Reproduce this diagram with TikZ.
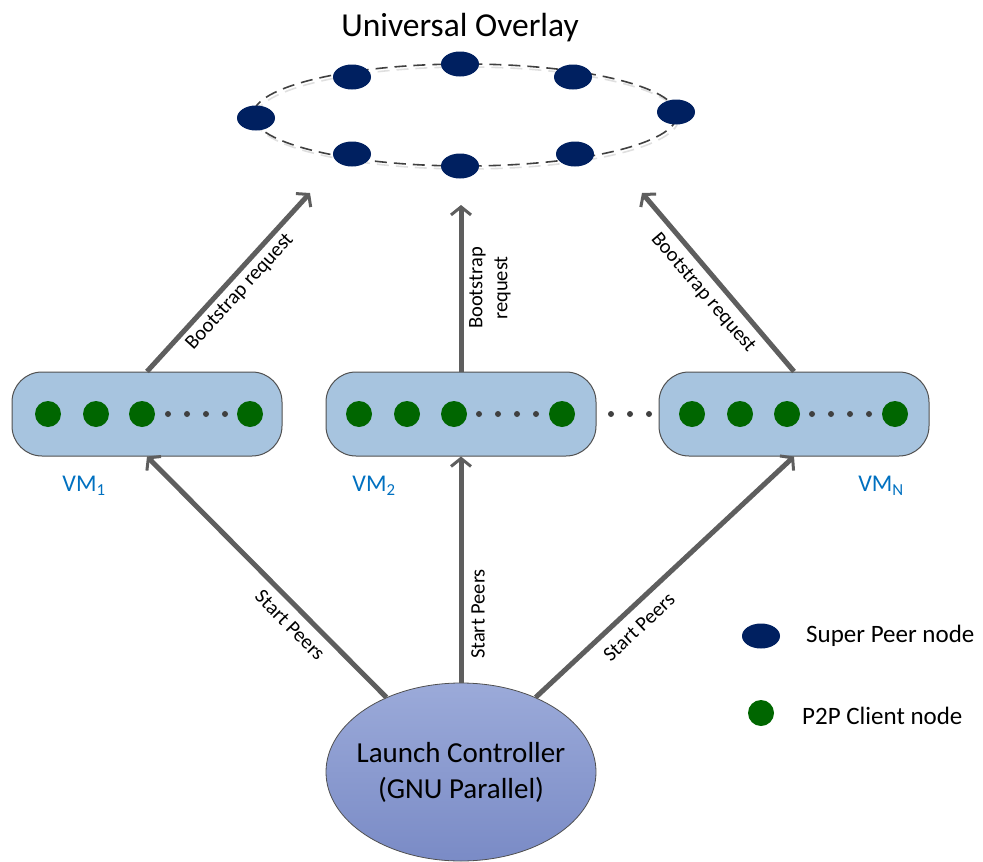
\documentclass[tikz,border=0pt]{standalone}
\usepackage{fontspec}
\setmainfont{Carlito}
\usetikzlibrary{shapes.geometric,arrows.meta}
\definecolor{navy}{HTML}{002060}
\definecolor{cgreen}{HTML}{006600}
\definecolor{dotgray}{HTML}{404040}
\definecolor{boxfill}{HTML}{A7C4DF}
\definecolor{boxline}{HTML}{505050}
\definecolor{arrowgray}{HTML}{5E5E5E}
\definecolor{vmblue}{HTML}{0070C0}
\definecolor{ringgray}{HTML}{404040}
\definecolor{lctop}{HTML}{9BAAD9}
\definecolor{lcbot}{HTML}{7A8BC6}
\begin{document}
\begin{tikzpicture}[x=1pt,y=-1pt,
  vmbox/.style={draw=boxline, line width=1pt, fill=boxfill, rounded corners=30pt,
    minimum width=270pt, minimum height=84pt, inner sep=0pt},
  super/.style={ellipse, fill=navy, minimum width=38pt, minimum height=25pt, inner sep=0pt},
  client/.style={circle, fill=cgreen, minimum size=26pt, inner sep=0pt},
  sdot/.style={circle, fill=dotgray, minimum size=6pt, inner sep=0pt},
  bigarrow/.style={draw=arrowgray, line width=5pt,
    -{Straight Barb[length=8pt,width=20pt,line width=3pt]}},
  lbl/.style={font=\fontsize{20.5}{24}\selectfont, inner sep=0pt, text=black},
  vmlbl/.style={font=\fontsize{24}{28}\selectfont, text=vmblue, inner sep=0pt},
  legtxt/.style={font=\fontsize{25}{30}\selectfont, anchor=west, inner sep=0pt}]
\useasboundingbox (0,0) rectangle (983,862);

% title
\node[font=\fontsize{33.5}{38}\selectfont, anchor=base, inner sep=0pt] (title) at (460,36) {Universal Overlay};

% ring
\node[ellipse, draw=gray!25, line width=1.6pt, dash pattern=on 12pt off 7pt,
  minimum width=424pt, minimum height=102pt, inner sep=0pt] (ringshadow) at (467,118) {};
\node[ellipse, draw=ringgray, line width=1.6pt, dash pattern=on 12pt off 7pt,
  minimum width=424pt, minimum height=102pt, inner sep=0pt] (ring) at (465,115) {};

\node[super] (sp1) at (256,118) {};
\node[super] (sp2) at (352,77) {};
\node[super] (sp3) at (460,64) {};
\node[super] (sp4) at (573,77) {};
\node[super] (sp5) at (676,112) {};
\node[super] (sp6) at (575,154) {};
\node[super] (sp7) at (460,166) {};
\node[super] (sp8) at (352,154) {};

% VM boxes
\node[vmbox] (vm1) at (147,414) {};
\node[vmbox] (vm2) at (461,414) {};
\node[vmbox] (vm3) at (794,414) {};

\foreach \x [count=\i] in {48,96,142,250} \node[client] (ca\i) at (\x,414) {};
\foreach \x [count=\i] in {168,187,206,225} \node[sdot] (da\i) at (\x,414) {};
\foreach \x [count=\i] in {359,407,454,562} \node[client] (cb\i) at (\x,414) {};
\foreach \x [count=\i] in {479,498,517,536} \node[sdot] (db\i) at (\x,414) {};
\foreach \x [count=\i] in {611,630,649} \node[sdot] (dm\i) at (\x,414) {};
\foreach \x [count=\i] in {692,740,787,895} \node[client] (cc\i) at (\x,414) {};
\foreach \x [count=\i] in {812,831,850,869} \node[sdot] (dc\i) at (\x,414) {};

\node[vmlbl] (l1) at (84,486) {VM\textsubscript{1}};
\node[vmlbl] (l2) at (374,486) {VM\textsubscript{2}};
\node[vmlbl] (l3) at (881,486) {VM\textsubscript{N}};

% launch controller
\node[ellipse, draw=boxline, line width=0.8pt, top color=lctop, bottom color=lcbot,
  minimum width=270pt, minimum height=178pt, inner sep=0pt] (launch) at (461,772) {};
\node[align=center, inner sep=0pt, font=\fontsize{29}{36}\selectfont] (launchtxt) at (launch.center) {Launch Controller\\(GNU Parallel)};

% bootstrap arrows
\coordinate (t1) at (310,193);
\coordinate (t2) at (461,205);
\coordinate (t3) at (642,193);
\draw[bigarrow] (vm1.north) -- (t1);
\draw[bigarrow] (vm2.north) -- (t2);
\draw[bigarrow] (vm3.north) -- (t3);

\node[lbl, rotate=47.7] (b1) at (240,292) {Bootstrap request};
\node[lbl, rotate=90, align=center, font=\fontsize{20.5}{25}\selectfont] (b2) at (490,288) {Bootstrap\\request};
\node[lbl, rotate=-49.5] (b3) at (703,293) {Bootstrap request};

% start arrows
\draw[bigarrow] (launch.135) -- (vm1.south);
\draw[bigarrow] (launch.north) -- (vm2.south);
\draw[bigarrow] (launch.45) -- (vm3.south);

\node[lbl, rotate=-45.4] (s1) at (290,625) {Start Peers};
\node[lbl, rotate=90] (s2) at (478,614) {Start Peers};
\node[lbl, rotate=43.3] (s3) at (639,627) {Start Peers};

% legend
\node[super] (lg1) at (761,636) {};
\node[client] (lg2) at (761,713) {};
\node[legtxt] (lt1) at (806,636) {Super Peer node};
\node[legtxt] (lt2) at (802,716) {P2P Client node};
\end{tikzpicture}
\end{document}
